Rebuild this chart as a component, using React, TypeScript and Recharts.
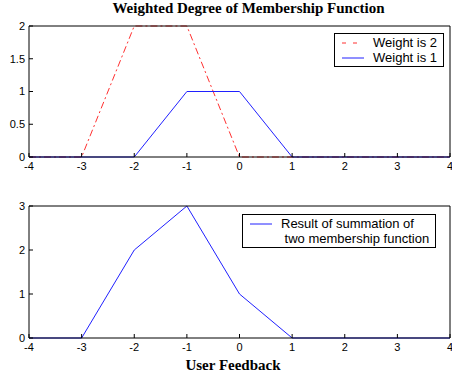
import React from 'react';
import { LineChart, Line, XAxis, YAxis, Legend } from 'recharts';

const xTicks = [-4, -3, -2, -1, 0, 1, 2, 3, 4];
const topYTicks = [0, 0.5, 1, 1.5, 2];
const bottomYTicks = [0, 1, 2, 3];

const weight2 = [
  { x: -4, y: 0 },
  { x: -3, y: 0 },
  { x: -2, y: 2 },
  { x: -1, y: 2 },
  { x: 0, y: 0 },
  { x: 4, y: 0 },
];
const weight1 = [
  { x: -4, y: 0 },
  { x: -2, y: 0 },
  { x: -1, y: 1 },
  { x: 0, y: 1 },
  { x: 1, y: 0 },
  { x: 4, y: 0 },
];
const summation = [
  { x: -4, y: 0 },
  { x: -3, y: 0 },
  { x: -2, y: 2 },
  { x: -1, y: 3 },
  { x: 0, y: 1 },
  { x: 1, y: 0 },
  { x: 4, y: 0 },
];

const topLegendOrder = ['Weight is 2', 'Weight is 1'];
const bottomLegendText = ['Result of summation of\n two membership function'];

const FONT = '"Liberation Sans", Arial, sans-serif';
const SERIF = '"Liberation Serif", "Times New Roman", serif';
const tickStyle = { fill: '#000', fontSize: 11, fontFamily: FONT };
const axisLine = { stroke: '#000' };
const tickLine = { stroke: '#000' };

function BoxLegend({ payload, order, lines }: any) {
  let items = payload ? [...payload] : [];
  if (order) items.sort((a: any, b: any) => order.indexOf(a.value) - order.indexOf(b.value));
  return (
    <div
      style={{
        border: '1px solid #000',
        background: '#fff',
        padding: '1px 6px 1px 6px',
        fontFamily: FONT,
        fontSize: 13,
        lineHeight: '15px',
        color: '#000',
      }}
    >
      {items.map((item: any, i: number) => (
        <div key={i} style={{ display: 'flex', alignItems: 'flex-start' }}>
          <svg width={24} height={15} style={{ flex: 'none', marginRight: 8 }}>
            <line
              x1={1}
              y1={8}
              x2={23}
              y2={8}
              stroke={item.color}
              strokeDasharray={item.payload?.strokeDasharray ? '4 7' : undefined}
            />
          </svg>
          <span style={{ whiteSpace: 'pre' }}>{lines ? lines[i] : item.value}</span>
        </div>
      ))}
    </div>
  );
}

export default function App() {
  return (
    <div style={{ position: 'absolute', left: 0, top: 0, width: 452, height: 381, background: '#fff' }}>
      <div
        style={{
          position: 'absolute',
          left: 0,
          width: 497,
          top: 0,
          textAlign: 'center',
          fontFamily: SERIF,
          fontWeight: 'bold',
          fontSize: 15,
        }}
      >
        Weighted Degree of Membership Function
      </div>

      <div style={{ position: 'absolute', left: 0, top: 0 }}>
        <LineChart width={452} height={175} margin={{ top: 25, right: 1, bottom: 17, left: 0 }}>
          <XAxis
            xAxisId="top"
            orientation="top"
            type="number"
            dataKey="x"
            domain={[-4, 4]}
            ticks={xTicks}
            height={1}
            tickSize={-4}
            tickFormatter={() => ''}
            axisLine={axisLine}
            tickLine={tickLine}
          />
          <XAxis
            type="number"
            dataKey="x"
            domain={[-4, 4]}
            ticks={xTicks}
            interval={0}
            height={1}
            tickSize={-4}
            tickMargin={9}
            tick={tickStyle}
            axisLine={axisLine}
            tickLine={tickLine}
          />
          <YAxis
            type="number"
            domain={[0, 2]}
            ticks={topYTicks}
            interval={0}
            width={29}
            tickSize={-4}
            tickMargin={8}
            tick={tickStyle}
            axisLine={axisLine}
            tickLine={tickLine}
          />
          <YAxis
            yAxisId="right"
            orientation="right"
            type="number"
            domain={[0, 2]}
            ticks={topYTicks}
            width={1}
            tickSize={-4}
            tickFormatter={() => ''}
            axisLine={axisLine}
            tickLine={tickLine}
          />
          <Legend
            verticalAlign="middle"
            align="center"
            layout="horizontal"
            itemSorter={null}
            wrapperStyle={{ position: 'absolute', left: 334, top: 33, width: 'auto' }}
            content={(props: any) => <BoxLegend {...props} order={topLegendOrder} />}
          />
          <Line
            data={weight2}
            dataKey="y"
            name="Weight is 2"
            stroke="#ff3030"
            strokeDasharray="7 3 2 3"
            dot={false}
            isAnimationActive={false}
          />
          <Line
            data={weight1}
            dataKey="y"
            name="Weight is 1"
            stroke="#2020ff"
            dot={false}
            isAnimationActive={false}
          />
        </LineChart>
      </div>

      <div style={{ position: 'absolute', left: 0, top: 180 }}>
        <LineChart width={452} height={180} margin={{ top: 25, right: 1, bottom: 21, left: 0 }}>
          <XAxis
            xAxisId="top"
            orientation="top"
            type="number"
            dataKey="x"
            domain={[-4, 4]}
            ticks={xTicks}
            height={1}
            tickSize={-4}
            tickFormatter={() => ''}
            axisLine={axisLine}
            tickLine={tickLine}
          />
          <XAxis
            type="number"
            dataKey="x"
            domain={[-4, 4]}
            ticks={xTicks}
            interval={0}
            height={1}
            tickSize={-4}
            tickMargin={9}
            tick={tickStyle}
            axisLine={axisLine}
            tickLine={tickLine}
          />
          <YAxis
            type="number"
            domain={[0, 3]}
            ticks={bottomYTicks}
            interval={0}
            width={29}
            tickSize={-4}
            tickMargin={8}
            tick={tickStyle}
            axisLine={axisLine}
            tickLine={tickLine}
          />
          <YAxis
            yAxisId="right"
            orientation="right"
            type="number"
            domain={[0, 3]}
            ticks={bottomYTicks}
            width={1}
            tickSize={-4}
            tickFormatter={() => ''}
            axisLine={axisLine}
            tickLine={tickLine}
          />
          <Legend
            verticalAlign="middle"
            align="center"
            layout="horizontal"
            wrapperStyle={{ position: 'absolute', left: 242, top: 34, width: 'auto' }}
            content={(props: any) => <BoxLegend {...props} lines={bottomLegendText} />}
          />
          <Line
            data={summation}
            dataKey="y"
            name="Result of summation of two membership function"
            stroke="#2020ff"
            dot={false}
            isAnimationActive={false}
          />
        </LineChart>
      </div>

      <div
        style={{
          position: 'absolute',
          left: 0,
          width: 466,
          top: 357,
          textAlign: 'center',
          fontFamily: SERIF,
          fontWeight: 'bold',
          fontSize: 15,
        }}
      >
        User Feedback
      </div>
    </div>
  );
}
